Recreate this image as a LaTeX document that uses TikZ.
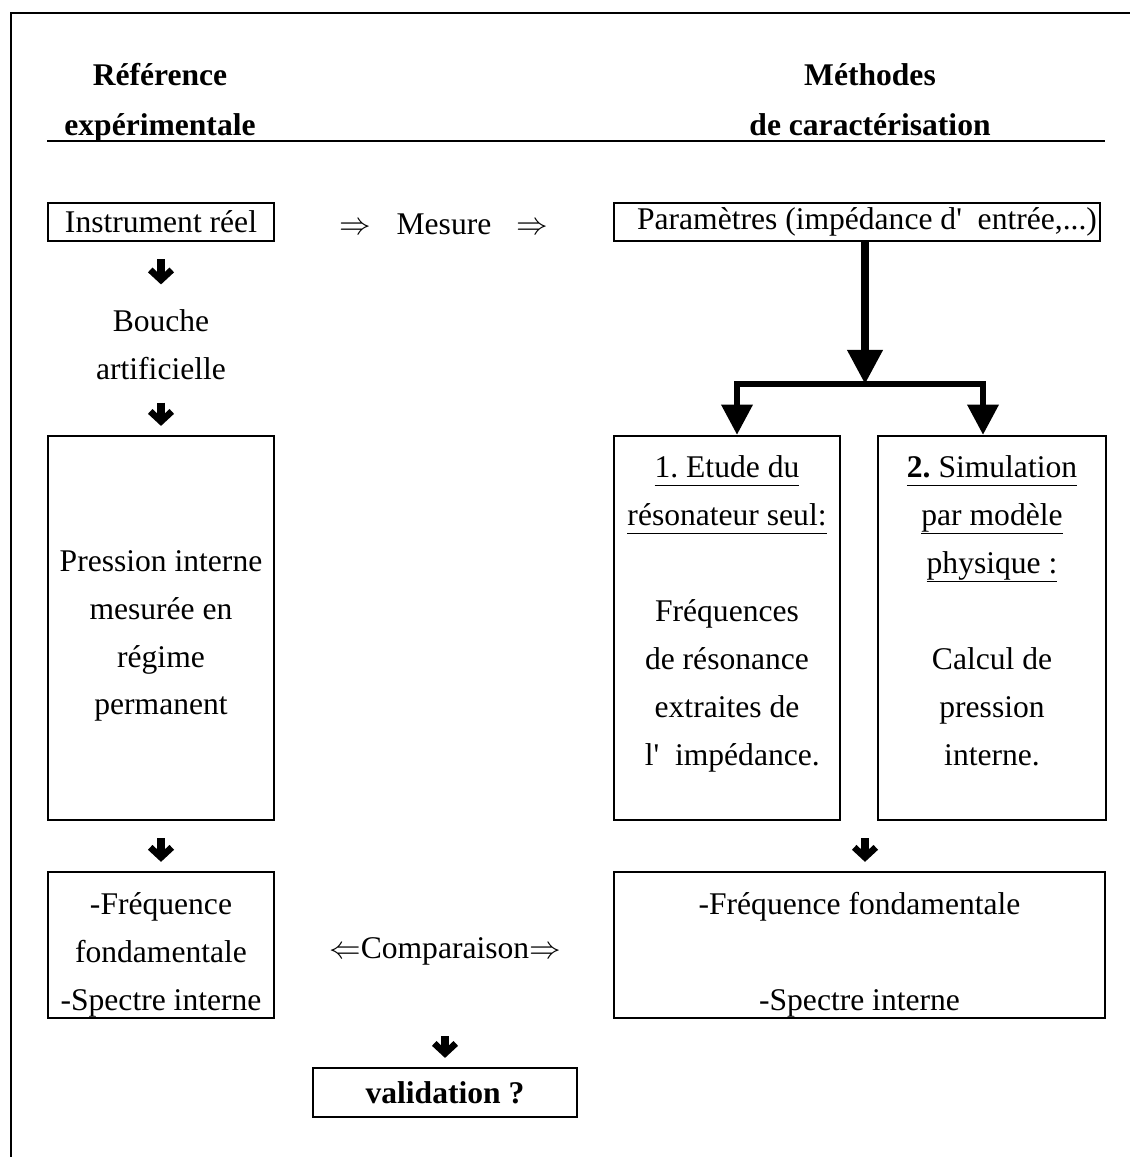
\documentclass[tikz,border=0pt]{standalone}
\usepackage{fontspec}
\setmainfont{Liberation Serif}
\usetikzlibrary{positioning,arrows.meta,calc}
\frenchspacing
\newcommand\uln[1]{\underline{\smash{#1}\rule[-1.5pt]{0pt}{9pt}}}

\begin{document}
\begin{tikzpicture}[
    x=0.38pt, y=0.38pt,
    font=\fontsize{12pt}{18.2pt}\selectfont,
    box/.style     = {draw=black, line width=0.9pt, inner sep=0pt, align=center,
                      minimum width=85.9pt},
    txt/.style     = {align=center, inner sep=0pt},
    head/.style    = {txt, font=\fontsize{12pt}{19pt}\selectfont\bfseries},
    darr/.style    = {line width=2.7pt,
                      -{Straight Barb[length=3.8pt, width=8.2pt, line width=2.5pt]}},
    bigarr/.style  = {line width=2.7pt, -{Triangle[length=13pt, width=13pt]}},
    forkarr/.style = {line width=2.3pt, line join=miter,
                      -{Triangle[length=11.5pt, width=11.5pt]}},
]

\useasboundingbox (0,0) rectangle (1130,-1157);

%============================ FRAME =================================
\draw[line width=1pt] (11,-1157) -- (11,-13) -- (1130,-13);
\draw[line width=0.8pt] (47,-141) -- (1105,-141);

%============================ HEADERS ===============================
\node[head] (refexp) at (160,-103) {Référence\\expérimentale};
\node[head] (meth)   at (870,-100) {Méthodes\\de caractérisation};

%============================ TOP ROW ===============================
\node[box, minimum height=14.4pt] (inst) at (161,-222) {Instrument réel};
\node[txt] (mesure) at (444,-224)
      {$\Rightarrow$\hspace{0.8em}Mesure\hspace{0.8em}$\Rightarrow$};
\node[box, minimum width=184.7pt, minimum height=14.4pt] (param) at (857,-222)
      {\hspace*{7.6pt}Paramètres (impédance d\textquotesingle\ \ entrée,...)};

%============================ LEFT COLUMN ===========================
\node[txt] (bouche) at (161,-345) {Bouche\\artificielle};
\node[box, minimum height=145.9pt] (press) at (161,-628) {};
\node[txt] (presstxt) at (161,-636)
      {Pression interne\\mesurée en\\régime\\permanent};

\draw[darr, shorten <=6.5pt, shorten >=9.5pt] (inst.south) -- (bouche.north);
\draw[darr, shorten <=8.4pt, shorten >=3.4pt] (bouche.south) -- (press.north);

%============================ RIGHT COLUMN ==========================
\node[box, minimum height=145.9pt] (etude) at (727,-628) {};
\node[txt] (etudetxt) at (727,-615)
      {\uln{1. Etude du}\\\uln{résonateur seul:}\\\strut\\
       Fréquences\\de résonance\\extraites de\\
       \hspace*{4pt}l\textquotesingle\ \ impédance.};
\node[box, minimum width=86.6pt, minimum height=145.9pt] (simu) at (992,-628) {};
\node[txt] (simutxt) at (992,-612)
      {\uln{\textbf{2.} Simulation}\\\uln{par modèle}\\
       \uln{physique :}\\\strut\\Calcul de\\pression\\interne.};

\coordinate (split) at (865,-384);
\coordinate (fk1)   at (737,-384);
\coordinate (fk2)   at (983,-384);
\draw[bigarr] (param.south -| split) -- (split);
\draw[forkarr] (split) -| (etude.north -| fk1);
\draw[forkarr] (split) -| (simu.north -| fk2);

%============================ RESULTS ===============================
\node[box, minimum height=55.5pt] (fleft) at (161,-945) {};
\node[txt] (flefttxt) at (161,-955)
      {-Fréquence\\fondamentale\\-Spectre interne};
\node[txt] (comp) at (445,-951) {$\Leftarrow$Comparaison$\Rightarrow$};
\node[box, minimum width=186.6pt, minimum height=55.5pt] (fright) at (859.5,-945) {};
\node[txt] (frighttxt) at (859.5,-955)
      {-Fréquence fondamentale\\\strut\\-Spectre interne};

\draw[darr, shorten <=6.5pt, shorten >=3.4pt] (press.south) -- (fleft.north);
\draw[darr, shorten <=6.5pt, shorten >=3.4pt]
      (etude.south -| split) -- (fright.north -| split);

%============================ VALIDATION ============================
\node[box, minimum width=100.3pt, minimum height=18.6pt,
      font=\fontsize{12pt}{18.2pt}\selectfont\bfseries]
      (valid) at (445,-1092.5) {validation ?};
\draw[darr, shorten <=27pt, shorten >=3.4pt] (comp.south) -- (valid.north);

\end{tikzpicture}
\end{document}
